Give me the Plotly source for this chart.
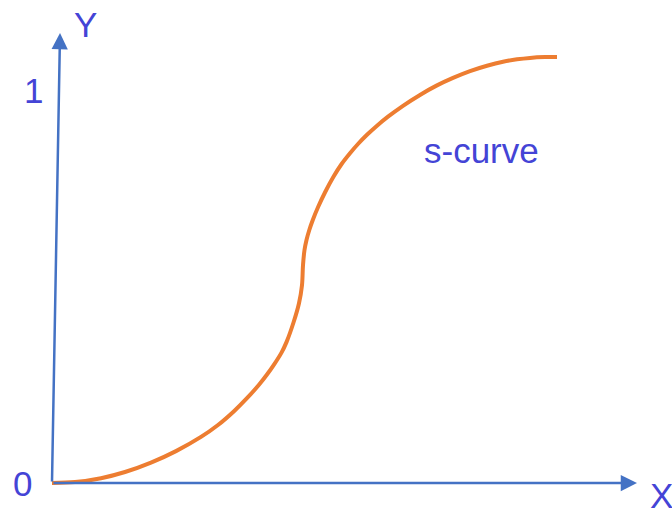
import plotly.graph_objects as go

# S-curve points (x, y) in chart units (origin at the arrows' corner, y = 1 at tick "1")
curve_x = [0.0, 0.0585, 0.1247, 0.1858, 0.2519, 0.3155, 0.3791, 0.4224, 0.4631,
           0.4949, 0.5267, 0.5471, 0.5649, 0.5840, 0.5967, 0.6145, 0.6285, 0.6361,
           0.6387, 0.6425, 0.6476, 0.6547, 0.6636, 0.6771, 0.6952, 0.7158, 0.7369,
           0.7588, 0.7786, 0.8015, 0.8270, 0.8550, 0.8931, 0.9364, 0.9796, 1.0204,
           1.0636, 1.1069, 1.1476, 1.1832, 1.2163, 1.2545, 1.2850]
curve_y = [0.0, 0.0023, 0.0122, 0.0280, 0.0519, 0.0812, 0.1173, 0.1476, 0.1827,
           0.2145, 0.2501, 0.2761, 0.3013, 0.3318, 0.3585, 0.4084, 0.4575, 0.5033,
           0.5547, 0.5929, 0.6183, 0.6438, 0.6692, 0.7023, 0.7405, 0.7786, 0.8117,
           0.8397, 0.8626, 0.8860, 0.9092, 0.9321, 0.9598, 0.9875, 1.0117, 1.0308,
           1.0481, 1.0618, 1.0720, 1.0781, 1.0817, 1.0837, 1.0840]

# axis arrows: (tail, tip)
x_axis_tail = (0.0, 0.0)
x_axis_tip = (1.4885, 0.0)
y_axis_tail = (0.0, 0.0)
y_axis_tip = (0.0204, 1.1450)

# labels
tick_labels = ["0", "1"]
tick_pos = [(-0.0763, 0.0), (-0.0483, 1.0)]
axis_names = ["X", "Y"]
axis_name_pos = [(1.5496, -0.0306), (0.0865, 1.1679)]
curve_label = "s-curve"
curve_label_pos = (1.0916, 0.8473)

AXIS_COLOR = "#4472C4"
TEXT_COLOR = "rgb(68,68,214)"
CURVE_COLOR = "#ED7D31"
FONT = "Liberation Sans, Arial, sans-serif"

fig = go.Figure()
fig.add_trace(go.Scatter(x=curve_x, y=curve_y, mode="lines",
                         line=dict(color=CURVE_COLOR, width=4, shape="spline", smoothing=1.0),
                         hoverinfo="skip", showlegend=False))

annotations = []
for tail, tip in [(x_axis_tail, x_axis_tip), (y_axis_tail, y_axis_tip)]:
    annotations.append(dict(x=tip[0], y=tip[1], ax=tail[0], ay=tail[1],
                            xref="x", yref="y", axref="x", ayref="y",
                            text="", showarrow=True, arrowhead=2, arrowsize=1.3,
                            arrowwidth=2.5, arrowcolor=AXIS_COLOR))

for txt, pos in list(zip(tick_labels, tick_pos)) + list(zip(axis_names, axis_name_pos)) + [(curve_label, curve_label_pos)]:
    annotations.append(dict(x=pos[0], y=pos[1], xref="x", yref="y", text=txt,
                            showarrow=False, borderpad=0,
                            font=dict(family=FONT, size=35, color=TEXT_COLOR)))

fig.update_layout(
    width=672, height=511,
    margin=dict(l=0, r=0, t=0, b=0),
    paper_bgcolor="white", plot_bgcolor="white",
    xaxis=dict(range=[-0.1323, 1.5776], visible=False, fixedrange=True),
    yaxis=dict(range=[-0.0712, 1.2290], visible=False, fixedrange=True),
    annotations=annotations,
    showlegend=False,
)

# remove the browser's default 8px body margin so the figure fills the window exactly
fig.write_html("out.html",
               config={"displayModeBar": False, "staticPlot": True},
               post_script="document.body.style.margin='0';document.body.style.overflow='hidden';")
